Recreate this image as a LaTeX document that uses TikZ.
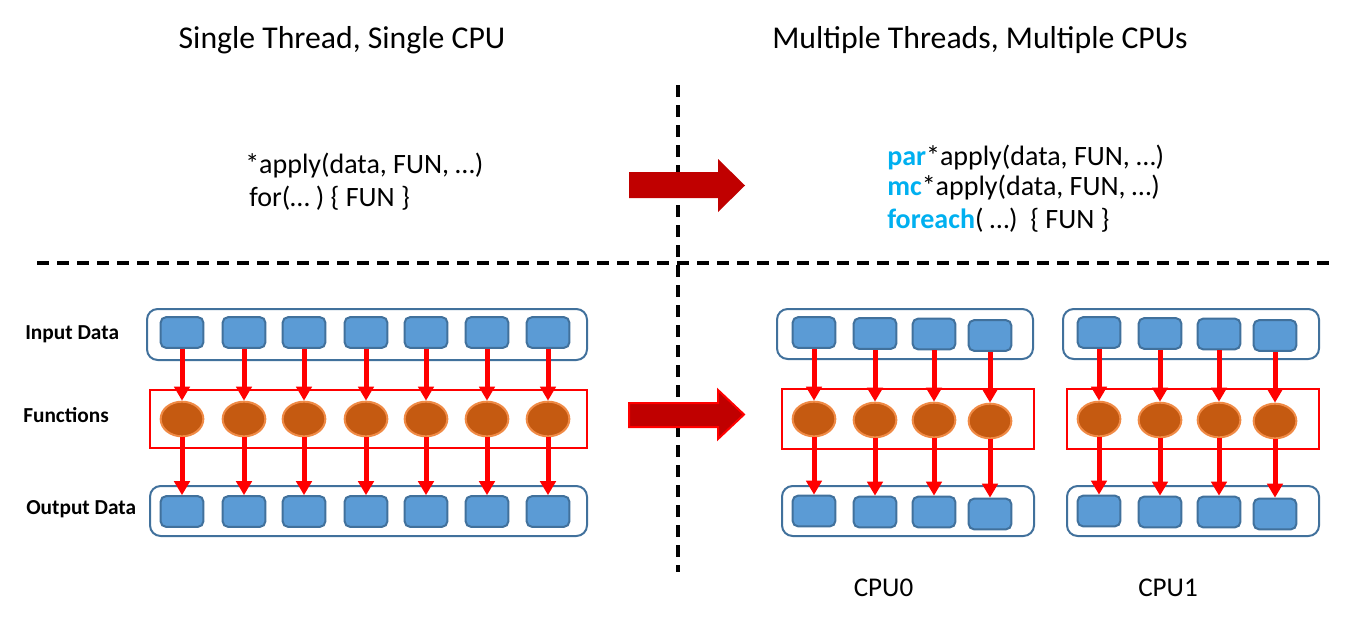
\documentclass[tikz,border=0pt]{standalone}
\usepackage{fontspec}
\setmainfont{Carlito}
\usetikzlibrary{arrows.meta,shapes.geometric}
\definecolor{boxfill}{HTML}{5B9BD5}
\definecolor{boxline}{HTML}{41719C}
\definecolor{fnfill}{HTML}{C55A11}
\definecolor{fnline}{HTML}{F08A45}
\definecolor{bigred}{HTML}{C00000}
\definecolor{kw}{HTML}{00B0F0}
\begin{document}
\begin{tikzpicture}[x=0.75pt,y=-0.75pt,
  databox/.style={draw=boxline,fill=boxfill,line width=1.5pt,rounded corners=4pt,minimum width=32pt,minimum height=23pt,inner sep=0pt},
  fnnode/.style={ellipse,draw=fnline,fill=fnfill,line width=1.5pt,minimum width=32pt,minimum height=26pt,inner sep=0pt},
  container/.style={draw=boxline,line width=1.5pt,rounded corners=8pt},
  fnframe/.style={draw=red,line width=1.7pt},
  flow/.style={draw=red,line width=3.75pt,-{Triangle[width=11.5pt,length=10.5pt]}},
  divider/.style={draw=black,line width=2.4pt,dash pattern=on 9pt off 6pt},
  bigarrow/.style={fill=bigred},
  title/.style={font=\fontsize{23.8}{28}\selectfont,anchor=base,inner sep=0pt},
  code/.style={font=\fontsize{21}{25}\selectfont,anchor=base west,inner sep=0pt},
  rowlabel/.style={font=\bfseries\fontsize{16}{19}\selectfont,anchor=base west,inner sep=0pt},
  cpulabel/.style={font=\fontsize{20.3}{24}\selectfont,anchor=base,inner sep=0pt}
]
\useasboundingbox (0,0) rectangle (1355,617);
\fill[white] (0,0) rectangle (1355,617);

% dividers
\draw[divider] (37,263) -- (1335,263);
\draw[divider] (678,85) -- (678,572);

% titles
\node[title] (t1) at (342,49) {Single Thread, Single CPU};
\node[title] (t2) at (980,49) {Multiple Threads, Multiple CPUs};

% code
\node[code] (c1) at (245,173) {*apply(data, FUN, …)};
\node[code] (c2) at (249,206) {for(… ) \{ FUN \}};
\node[code] (c3) at (887,165) {\textcolor{kw}{\bfseries par}*apply(data, FUN, …)};
\node[code] (c4) at (887,195) {\textcolor{kw}{\bfseries mc}*apply(data, FUN, …)};
\node[code] (c5) at (887,228) {\textcolor{kw}{\bfseries foreach}( …)~~\{ FUN \}};

% row labels
\node[rowlabel] (l1) at (25,339.5) {Input Data};
\node[rowlabel] (l2) at (23,422) {Functions};
\node[rowlabel] (l3) at (26,514) {Output Data};

% big arrows
\fill[bigarrow] (629,172) -- (718,172) -- (718,159) -- (745,185.5) -- (718,212) -- (718,198) -- (629,198) -- cycle;
\filldraw[bigarrow,draw=red,line width=1.5pt] (629,403) -- (718,403) -- (718,390) -- (744,414.5) -- (718,439) -- (718,427) -- (629,427) -- cycle;

% left panel
\draw[container] (147,309) rectangle (587,360);
\draw[fnframe] (150,390) rectangle (587,448);
\draw[container] (150,486) rectangle (587,536);
\foreach \i/\x in {1/182,2/244,3/304,4/366,5/426,6/487,7/548}{
  \node[databox] (li\i) at (\x,332.5) {};
  \node[fnnode] (lf\i) at (\x,419) {};
  \node[databox] (lo\i) at (\x,511.5) {};
  \draw[flow] (li\i.south) -- (lf\i.north);
  \draw[flow] (lf\i.south) -- (lo\i.north);
}

% CPU0
\draw[container] (777,309) rectangle (1033,359);
\draw[fnframe] (782,389) rectangle (1034,449);
\draw[container] (782,486) rectangle (1034,536);
\foreach \i/\x/\ya/\yb/\yc in {1/814/332.5/419/511,2/875/333.5/420/512,3/934/334/420/512,4/990/335.5/421/514}{
  \node[databox] (ai\i) at (\x,\ya) {};
  \node[fnnode] (af\i) at (\x,\yb) {};
  \node[databox] (ao\i) at (\x,\yc) {};
  \draw[flow] (ai\i.south) -- (af\i.north);
  \draw[flow] (af\i.south) -- (ao\i.north);
}

% CPU1
\draw[container] (1063,309) rectangle (1319,359);
\draw[fnframe] (1067,389) rectangle (1319,449);
\draw[container] (1067,486) rectangle (1319,536);
\foreach \i/\x/\ya/\yb/\yc in {1/1099/332.5/419/511,2/1160/333.5/420/512,3/1219/334/420/512,4/1275/335.5/421/514}{
  \node[databox] (bi\i) at (\x,\ya) {};
  \node[fnnode] (bf\i) at (\x,\yb) {};
  \node[databox] (bo\i) at (\x,\yc) {};
  \draw[flow] (bi\i.south) -- (bf\i.north);
  \draw[flow] (bf\i.south) -- (bo\i.north);
}

\node[cpulabel] (cpu0) at (883.5,596) {CPU0};
\node[cpulabel] (cpu1) at (1168,596) {CPU1};
\end{tikzpicture}
\end{document}
